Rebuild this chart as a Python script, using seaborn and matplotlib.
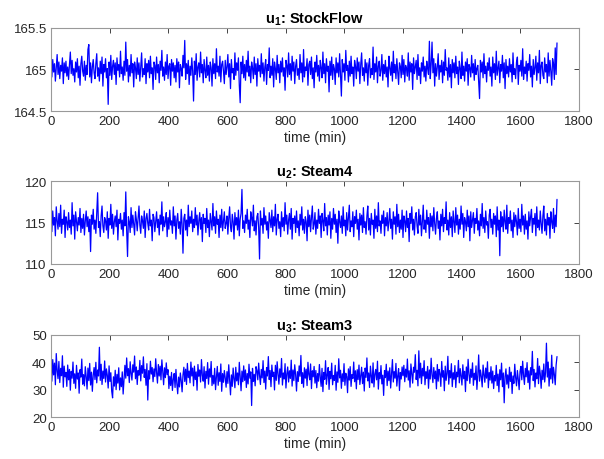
import seaborn as sns
import matplotlib.pyplot as plt
import matplotlib.ticker as mticker
import numpy as np

# one sample every 3 min
step_min = 3

stock_flow = [
    165.04, 164.91, 165.12, 164.97, 165.07, 164.86, 165.02, 165.18, 164.94, 165.09, 164.89, 165.05, 164.98, 165.14, 164.83, 165.08, 164.96, 165.10, 164.92, 165.03,
    164.88, 165.06, 165.21, 164.95, 165.11, 164.93, 165.01, 164.85, 165.09, 164.97, 165.13, 164.90, 165.04, 164.81, 165.07, 165.16, 164.98, 164.92, 165.10, 164.87,
    165.05, 164.94, 165.24, 165.30, 164.91, 165.08, 164.84, 165.03, 165.12, 164.96, 164.89, 165.07, 165.19, 164.92, 165.02, 164.86, 165.10, 164.95, 165.15, 164.80,
    165.06, 164.97, 165.13, 164.90, 165.01, 164.58, 165.09, 164.93, 165.17, 164.88, 165.04, 165.11, 164.94, 165.08, 164.82, 165.14, 164.99, 165.06, 164.91, 165.22,
    164.95, 165.03, 164.87, 165.10, 164.93, 165.33, 164.98, 165.12, 164.85, 165.05, 164.92, 165.18, 164.96, 165.07, 164.79, 165.09, 165.02, 164.89, 165.14, 164.94,
    165.08, 164.86, 165.04, 165.20, 164.91, 165.01, 164.94, 165.13, 164.83, 165.07, 164.97, 165.11, 164.90, 165.16, 164.95, 165.02, 164.76, 165.09, 165.05, 164.88,
    165.15, 164.96, 165.06, 164.84, 165.10, 164.99, 165.23, 164.92, 165.03, 164.87, 165.09, 164.94, 165.18, 164.89, 165.04, 165.07, 164.81, 165.12, 164.98, 165.08,
    164.90, 165.05, 164.85, 165.13, 164.97, 165.09, 164.78, 165.06, 165.01, 164.92, 165.17, 165.02, 165.35, 164.88, 165.07, 164.95, 165.11, 164.82, 165.04, 164.93,
    165.14, 164.98, 164.62, 165.10, 164.94, 165.19, 164.87, 165.03, 165.08, 164.91, 165.21, 164.96, 165.06, 164.84, 165.12, 164.99, 164.90, 165.15, 164.93, 165.05,
    164.86, 165.09, 165.02, 164.80, 165.13, 164.95, 165.07, 164.89, 165.25, 164.97, 165.04, 164.92, 165.16, 164.85, 165.06, 165.10, 164.98, 164.83, 165.11, 164.94,
    165.03, 165.18, 164.91, 165.07, 164.77, 165.12, 164.96, 165.01, 164.88, 165.20, 164.93, 165.08, 164.99, 165.14, 164.81, 164.60, 165.09, 164.95, 165.16, 164.90,
    165.06, 164.87, 165.11, 164.97, 165.22, 164.92, 165.04, 164.84, 165.09, 165.02, 164.89, 165.15, 164.94, 165.07, 164.80, 165.13, 164.98, 165.05, 164.91, 165.19,
    164.95, 165.08, 164.86, 165.03, 165.12, 164.82, 165.06, 164.99, 165.26, 164.90, 165.04, 164.93, 165.13, 164.79, 165.09, 165.01, 164.88, 165.17, 164.96, 165.06,
    164.84, 165.10, 164.97, 165.14, 164.92, 165.02, 164.75, 165.11, 165.05, 164.91, 165.20, 164.94, 165.07, 164.87, 165.16, 164.98, 165.09, 164.83, 165.04, 165.12,
    164.93, 165.01, 164.88, 165.18, 164.96, 165.08, 164.85, 165.24, 164.91, 165.03, 164.99, 165.13, 164.81, 165.06, 165.10, 164.94, 165.15, 164.89, 165.02, 164.78,
    165.09, 164.97, 165.17, 164.92, 165.05, 164.86, 165.11, 165.02, 164.90, 165.21, 164.95, 165.07, 164.84, 165.13, 164.98, 165.04, 164.73, 165.10, 164.93, 165.15,
    164.88, 165.06, 165.01, 164.82, 165.14, 164.96, 165.08, 164.91, 165.19, 164.94, 164.68, 165.12, 164.97, 165.07, 164.87, 165.23, 164.99, 165.05, 164.85, 165.10,
    164.92, 165.16, 164.95, 165.03, 164.80, 165.11, 165.04, 164.89, 165.14, 164.98, 165.09, 164.83, 165.06, 165.20, 164.93, 165.02, 164.86, 165.12, 164.96, 165.08,
    164.81, 165.05, 165.13, 164.90, 165.01, 164.94, 165.27, 164.88, 165.07, 164.97, 165.15, 164.84, 165.04, 165.10, 164.92, 164.99, 165.18, 164.87, 165.06, 164.95,
    165.11, 164.91, 165.03, 164.79, 165.16, 165.02, 164.93, 165.09, 164.86, 165.22, 164.96, 165.06, 164.89, 165.13, 164.98, 164.82, 165.08, 165.04, 164.90, 165.17,
    164.94, 165.12, 164.85, 165.05, 165.01, 164.92, 165.20, 164.87, 165.09, 164.97, 165.07, 164.76, 165.14, 164.95, 165.03, 165.11, 164.88, 165.18, 164.93, 165.02,
    164.83, 165.08, 164.98, 165.15, 164.91, 165.04, 164.86, 165.10, 165.01, 164.94, 165.34, 164.89, 165.06, 165.33, 164.96, 165.13, 164.80, 165.07, 164.92, 165.03,
    165.19, 164.88, 165.05, 164.97, 165.11, 164.84, 165.09, 164.93, 165.24, 164.99, 165.02, 164.87, 165.14, 164.91, 165.06, 164.78, 165.12, 164.96, 165.08, 164.90,
    165.16, 164.95, 165.03, 164.82, 165.10, 165.01, 164.89, 165.21, 164.93, 165.04, 164.86, 165.09, 164.98, 165.13, 164.81, 165.06, 165.02, 164.91, 165.17, 164.96,
    165.07, 164.87, 165.12, 164.94, 165.01, 165.05, 164.84, 164.65, 165.11, 164.97, 165.09, 164.90, 165.19, 164.95, 165.04, 164.85, 165.08, 164.99, 165.14, 164.92,
    165.03, 164.80, 165.15, 164.96, 165.07, 164.88, 165.22, 164.93, 165.02, 165.10, 164.84, 165.06, 164.98, 165.17, 164.90, 165.08, 164.77, 165.12, 164.95, 165.04,
    164.91, 165.13, 164.97, 165.06, 164.85, 165.20, 164.94, 165.01, 164.89, 165.09, 165.15, 164.82, 165.05, 164.98, 165.11, 164.92, 165.25, 164.88, 165.03, 164.95,
    165.10, 164.86, 165.07, 164.99, 165.18, 164.91, 165.04, 164.79, 165.12, 164.94, 165.02, 165.16, 164.87, 165.08, 164.96, 165.23, 164.83, 165.05, 165.09, 164.93,
    164.89, 165.14, 164.97, 165.06, 164.84, 165.20, 164.92, 165.11, 164.98, 164.81, 165.13, 165.07, 164.88, 165.26, 164.94, 165.32,
]

steam4 = [
    115.8, 113.9, 116.4, 114.7, 115.6, 113.4, 116.9, 115.2, 114.2, 116.1, 114.5, 117.1, 113.7, 115.4, 114.8, 116.5, 113.2, 115.7, 115.1, 114.1,
    116.2, 114.4, 115.3, 113.6, 117.4, 114.6, 115.9, 113.0, 116.3, 115.1, 114.0, 115.6, 114.7, 116.7, 113.8, 115.5, 114.3, 116.0, 113.5, 115.2,
    116.4, 114.5, 115.7, 113.9, 115.4, 111.5, 115.9, 114.8, 116.6, 114.2, 115.3, 113.7, 116.1, 118.6, 114.4, 115.1, 113.3, 115.8, 117.0, 114.6,
    113.8, 115.6, 115.2, 114.1, 116.3, 113.1, 115.5, 114.7, 117.2, 114.3, 116.0, 113.6, 115.1, 115.8, 114.5, 116.5, 112.9, 115.4, 114.9, 116.1,
    114.2, 115.3, 113.4, 116.2, 114.6, 118.7, 114.1, 110.9, 115.7, 115.1, 113.8, 116.8, 114.4, 115.9, 114.8, 113.5, 116.3, 115.4, 114.0, 115.6,
    117.0, 114.7, 113.7, 115.8, 115.2, 114.3, 116.4, 113.2, 115.5, 116.1, 114.9, 114.1, 116.6, 114.6, 115.3, 112.8, 116.0, 115.6, 113.9, 115.1,
    116.3, 114.4, 115.4, 113.5, 115.9, 114.8, 117.5, 114.0, 115.7, 114.5, 115.1, 116.2, 113.3, 115.6, 114.2, 116.5, 114.7, 115.2, 113.7, 116.9,
    114.6, 115.8, 113.0, 115.3, 116.1, 114.3, 115.1, 113.6, 116.6, 114.8, 111.3, 115.5, 116.0, 114.1, 115.3, 113.4, 117.1, 114.5, 115.7, 114.9,
    116.4, 113.9, 115.4, 114.4, 116.8, 114.7, 115.9, 113.5, 115.2, 116.2, 114.2, 115.6, 112.7, 116.0, 114.9, 115.5, 113.8, 116.7, 114.4, 115.3,
    113.3, 116.1, 115.1, 114.1, 117.3, 114.6, 115.7, 113.7, 116.4, 114.8, 115.4, 113.2, 115.9, 114.4, 116.6, 114.0, 115.2, 116.3, 114.3, 114.9,
    115.8, 113.6, 115.5, 116.9, 114.5, 113.9, 116.0, 115.1, 113.0, 116.2, 114.7, 115.6, 114.1, 116.5, 113.4, 115.4, 116.1, 119.0, 114.3, 115.2,
    113.8, 115.9, 114.9, 116.6, 114.2, 115.3, 113.2, 116.3, 115.6, 114.6, 117.1, 114.0, 115.2, 113.5, 115.7, 116.1, 114.4, 110.6, 116.4, 114.7,
    115.5, 113.7, 116.8, 114.8, 115.8, 114.1, 115.1, 113.1, 116.2, 115.3, 114.4, 116.5, 113.9, 115.7, 114.6, 117.2, 113.5, 115.4, 116.0, 114.3,
    115.1, 113.3, 116.3, 114.5, 115.6, 114.0, 117.4, 114.8, 115.9, 113.6, 115.3, 116.1, 114.2, 116.7, 113.0, 115.5, 114.9, 115.8, 113.8, 116.4,
    114.4, 115.2, 113.4, 116.0, 114.7, 116.9, 114.1, 115.4, 113.7, 115.7, 115.1, 112.8, 116.5, 114.5, 115.9, 113.9, 115.6, 117.0, 114.2, 114.8,
    116.2, 113.6, 115.3, 114.3, 116.6, 114.9, 115.8, 113.2, 116.1, 115.2, 114.0, 117.3, 114.6, 115.6, 113.5, 115.9, 114.7, 116.3, 113.1, 115.5,
    114.2, 116.7, 114.8, 116.0, 113.8, 115.4, 112.5, 116.4, 115.1, 114.4, 115.8, 113.7, 116.9, 114.6, 115.3, 113.4, 116.2, 114.1, 115.6, 117.1,
    113.9, 115.2, 114.5, 116.3, 113.3, 115.7, 114.9, 116.5, 114.2, 115.4, 112.9, 116.1, 114.7, 115.9, 113.8, 116.8, 114.4, 115.1, 113.6, 115.8,
    117.0, 114.1, 115.5, 113.5, 116.1, 114.8, 115.3, 113.1, 116.6, 114.3, 115.8, 113.9, 117.4, 114.6, 115.2, 113.7, 115.9, 114.9, 116.4, 113.4,
    115.6, 114.6, 116.2, 114.0, 115.1, 116.7, 114.3, 115.4, 113.0, 116.3, 114.8, 115.7, 113.6, 117.2, 114.5, 116.0, 113.8, 115.3, 114.2, 116.5,
    113.2, 115.8, 115.2, 113.9, 116.4, 114.4, 115.5, 112.7, 116.1, 114.9, 116.9, 114.1, 115.4, 113.5, 115.7, 116.2, 114.6, 113.7, 116.6, 114.7,
    115.9, 113.4, 115.1, 117.1, 114.2, 115.3, 113.8, 116.5, 114.8, 115.6, 113.1, 116.1, 114.5, 115.8, 114.0, 116.8, 114.9, 113.6, 115.5, 116.3,
    114.3, 115.2, 112.9, 116.0, 114.6, 116.6, 113.9, 115.6, 114.9, 117.5, 114.1, 115.3, 113.5, 116.2, 114.4, 115.7, 113.3, 116.4, 115.1, 113.8,
    116.8, 114.7, 115.9, 113.6, 115.4, 114.2, 117.0, 114.8, 116.1, 113.2, 115.6, 115.1, 114.0, 116.5, 114.5, 115.8, 112.8, 116.3, 114.4, 115.3,
    116.2, 113.7, 115.5, 114.9, 116.7, 114.1, 115.2, 113.4, 116.0, 114.6, 117.3, 114.3, 115.6, 113.8, 116.4, 114.7, 115.1, 113.1, 115.9, 116.6,
    114.4, 115.4, 113.6, 116.1, 114.8, 115.8, 113.3, 116.9, 114.1, 115.3, 111.0, 116.3, 114.5, 115.7, 113.9, 116.5, 115.1, 114.2, 117.1, 113.7,
    115.6, 114.9, 116.4, 114.0, 115.3, 113.2, 116.2, 114.5, 115.9, 115.1, 113.5, 116.7, 114.3, 115.4, 113.9, 117.2, 114.7, 115.8, 113.6, 116.0,
    114.2, 115.2, 113.0, 116.3, 114.6, 115.7, 116.6, 113.8, 115.5, 114.8, 116.1, 113.4, 116.9, 114.4, 115.3, 114.1, 116.4, 114.9, 113.7, 115.8,
    117.0, 114.0, 115.4, 113.5, 116.1, 114.7, 115.6, 113.1, 116.3, 115.1, 114.3, 116.7, 113.8, 115.9, 114.5, 117.8,
]

steam3 = [
    38.2, 33.1, 41.0, 35.4, 39.7, 31.8, 43.2, 36.9, 34.0, 40.3, 32.6, 37.8, 35.1, 42.4, 30.9, 38.6, 34.7, 36.3, 31.2, 39.0,
    33.6, 37.4, 29.8, 36.7, 34.2, 40.1, 32.3, 35.8, 30.5, 38.9, 33.9, 36.1, 28.7, 37.3, 34.6, 41.2, 32.0, 35.5, 31.4, 38.4,
    34.8, 30.2, 37.9, 33.3, 39.6, 31.7, 36.4, 29.4, 35.2, 38.1, 33.7, 40.0, 32.5, 37.2, 35.0, 45.5, 33.4, 39.3, 31.9, 36.8,
    34.1, 40.5, 32.8, 37.6, 35.3, 30.6, 38.7, 33.0, 36.2, 29.5, 27.0, 34.7, 31.3, 37.1, 30.0, 35.6, 32.4, 38.0, 29.9, 34.3,
    31.1, 36.5, 28.4, 33.8, 38.9, 34.2, 41.6, 35.1, 37.7, 32.6, 40.2, 35.9, 33.5, 39.1, 36.4, 42.3, 34.0, 38.3, 31.9, 37.0,
    35.3, 40.7, 33.2, 38.8, 36.0, 42.0, 34.5, 37.4, 31.6, 39.5, 26.2, 36.9, 33.9, 40.4, 35.7, 38.1, 32.9, 37.6, 34.8, 41.3,
    36.2, 32.4, 39.2, 35.0, 38.6, 33.6, 40.9, 36.7, 31.8, 38.0, 34.4, 39.8, 35.5, 37.3, 30.4, 34.9, 31.5, 36.3, 29.7, 33.8,
    35.9, 30.8, 37.4, 32.2, 28.5, 34.6, 31.0, 36.1, 33.3, 29.2, 35.4, 38.2, 33.0, 37.5, 31.9, 39.6, 34.4, 36.8, 32.5, 40.1,
    35.0, 37.9, 31.4, 38.6, 33.7, 36.5, 29.8, 39.2, 34.9, 37.2, 32.8, 41.0, 35.3, 33.1, 38.4, 30.6, 36.7, 34.1, 39.9, 32.0,
    37.6, 34.6, 40.3, 31.5, 35.2, 32.1, 37.8, 30.0, 34.7, 38.5, 31.6, 36.2, 33.0, 39.4, 29.4, 35.9, 32.7, 37.0, 34.3, 30.9,
    36.6, 32.3, 39.1, 33.6, 28.1, 35.4, 31.2, 37.9, 34.0, 30.7, 38.2, 33.2, 36.1, 31.8, 40.0, 34.5, 29.6, 36.8, 32.9, 38.7,
    33.4, 37.2, 30.8, 35.9, 32.1, 39.3, 34.2, 36.5, 24.2, 37.8, 33.0, 35.6, 31.4, 38.4, 36.9, 33.6, 39.7, 35.2, 31.9, 37.4,
    34.3, 40.6, 32.6, 36.8, 30.2, 38.1, 35.0, 42.1, 33.7, 37.0, 31.1, 39.0, 34.8, 36.4, 29.9, 38.9, 33.4, 40.2, 35.7, 32.0,
    37.6, 34.5, 41.4, 31.7, 36.1, 33.9, 39.5, 30.6, 35.8, 38.3, 32.8, 36.9, 34.1, 40.8, 31.3, 37.2, 33.3, 39.1, 35.4, 29.5,
    36.6, 33.0, 38.7, 34.9, 42.5, 32.3, 36.2, 30.9, 38.0, 34.2, 37.5, 31.5, 40.0, 35.6, 33.6, 39.4, 30.4, 36.9, 34.7, 38.5,
    32.4, 37.0, 30.7, 35.9, 33.1, 39.2, 34.6, 31.2, 37.8, 29.3, 36.3, 33.8, 40.6, 32.0, 35.4, 38.1, 30.1, 36.7, 34.0, 39.7,
    31.8, 35.2, 33.4, 38.9, 29.8, 36.5, 32.7, 41.3, 34.3, 37.1, 30.5, 35.8, 33.0, 39.5, 31.6, 36.0, 34.8, 28.9, 37.6, 33.5,
    38.4, 31.2, 35.5, 34.1, 40.1, 32.9, 36.9, 30.3, 37.3, 33.7, 39.0, 31.9, 35.1, 38.2, 32.2, 36.4, 29.5, 37.9, 34.5, 41.6,
    33.2, 36.1, 30.8, 38.6, 34.9, 32.4, 39.8, 31.0, 35.7, 37.4, 33.6, 40.4, 30.2, 36.2, 34.0, 38.8, 32.1, 35.3, 27.9, 37.0,
    34.4, 39.3, 31.5, 36.8, 33.3, 38.0, 30.6, 35.6, 41.0, 32.8, 36.6, 34.2, 39.6, 31.3, 35.0, 37.7, 29.7, 36.3, 33.9, 38.3,
    35.1, 38.9, 32.9, 37.5, 34.6, 41.2, 33.5, 36.9, 30.9, 39.4, 35.8, 32.4, 38.2, 36.4, 42.8, 33.7, 37.1, 31.4, 44.2, 34.3,
    39.7, 32.2, 37.8, 35.0, 40.6, 31.8, 36.6, 34.1, 38.5, 30.5, 37.2, 33.9, 41.5, 35.4, 32.6, 38.1, 34.0, 36.8, 30.3, 39.2,
    33.1, 37.4, 35.8, 31.2, 40.3, 34.6, 36.9, 29.6, 38.6, 33.4, 35.9, 42.2, 32.0, 37.0, 34.3, 39.5, 31.1, 36.2, 33.8, 38.8,
    30.8, 36.4, 34.7, 40.7, 32.5, 37.7, 35.1, 31.7, 39.1, 34.0, 36.7, 29.3, 38.3, 33.3, 41.1, 35.6, 32.3, 37.5, 34.5, 39.8,
    31.6, 36.0, 33.6, 38.7, 30.1, 35.3, 42.7, 33.1, 37.2, 34.8, 31.0, 39.0, 35.5, 32.7, 37.9, 34.2, 40.2, 30.7, 36.3, 33.5,
    38.4, 32.4, 36.8, 30.4, 35.1, 33.2, 38.9, 31.5, 35.7, 29.2, 37.3, 33.6, 39.7, 31.1, 36.1, 25.2, 34.9, 37.6, 32.0, 35.4,
    30.6, 38.2, 33.0, 36.4, 28.6, 35.0, 32.3, 39.3, 34.4, 31.4, 37.0, 33.8, 30.0, 36.6, 38.5, 33.6, 40.4, 35.2, 31.9, 37.8,
    34.7, 39.9, 32.6, 36.9, 30.2, 38.0, 35.4, 44.0, 33.3, 37.4, 31.0, 36.1, 34.0, 41.4, 32.2, 38.6, 35.8, 30.5, 37.1, 33.7,
    39.4, 32.8, 36.3, 47.0, 34.6, 40.1, 31.3, 37.7, 33.9, 42.6, 32.4, 38.2, 35.5, 31.8, 39.0, 42.1,
]

titles = [r'$\mathbf{u_1}$: StockFlow', r'$\mathbf{u_2}$: Steam4', r'$\mathbf{u_3}$: Steam3']
series = [stock_flow, steam4, steam3]
ylims = [(164.5, 165.5), (110, 120), (20, 50)]
yticks = [[164.5, 165, 165.5], [110, 115, 120], [20, 30, 40, 50]]
xticks = list(range(0, 1801, 200))

sns.set_theme(style="white")
plt.rcParams['font.family'] = ['Liberation Sans', 'DejaVu Sans']
plt.rcParams['mathtext.fontset'] = 'custom'
plt.rcParams['mathtext.bf'] = 'Liberation Sans:bold'
plt.rcParams['mathtext.rm'] = 'Liberation Sans'

fig, axes = plt.subplots(3, 1, figsize=(6.04, 4.6), dpi=100)

boxes = [(0.0844, 0.7565, 0.8742, 0.1805),
         (0.0844, 0.4240, 0.8742, 0.1800),
         (0.0844, 0.0913, 0.8742, 0.1783)]

for ax, s, title, yl, yt, box in zip(axes, series, titles, ylims, yticks, boxes):
    t = np.arange(len(s)) * step_min
    sns.lineplot(x=t, y=s, ax=ax, color='#0000FF', linewidth=0.9, estimator=None)
    ax.set_position(box)
    ax.set_xlim(0, 1800)
    ax.set_ylim(*yl)
    ax.set_xticks(xticks)
    ax.set_yticks(yt)
    ax.yaxis.set_major_formatter(mticker.FormatStrFormatter('%g'))
    ax.tick_params(direction='in', length=3.5, width=0.6, top=True, right=True,
                   labelsize=9.5, colors='#262626', pad=3)
    for sp in ax.spines.values():
        sp.set_color('#999999')
        sp.set_linewidth(0.8)
    ax.set_title(title, fontsize=10.5, fontweight='bold', color='black', pad=4)
    ax.set_xlabel('time (min)', fontsize=10, color='#262626', labelpad=2)
    ax.set_ylabel('')

fig.savefig('out.png', dpi=100)
